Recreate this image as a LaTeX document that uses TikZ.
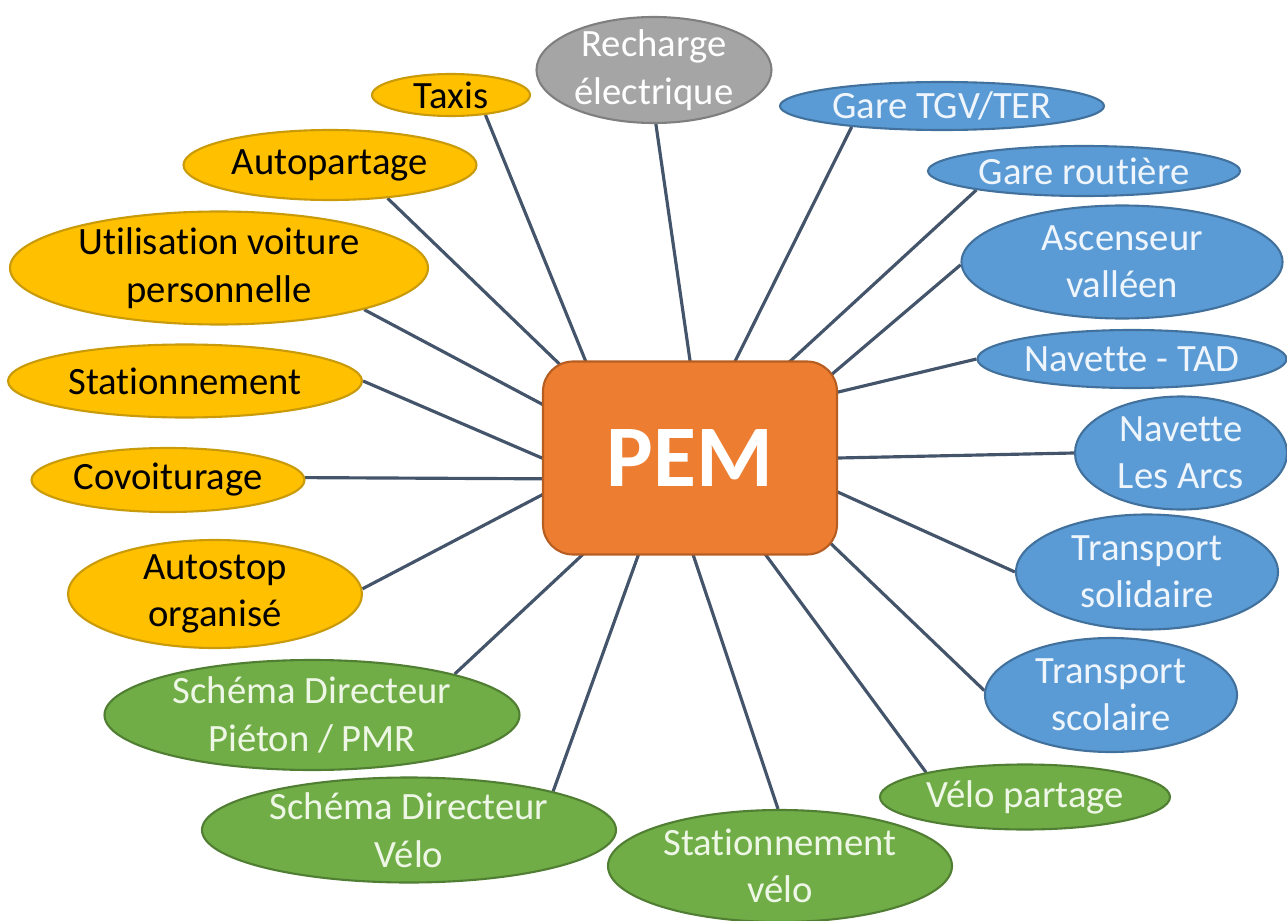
\documentclass[tikz,border=0pt]{standalone}
\usepackage{fontspec}
\setmainfont{Carlito}[RawFeature=-liga, RawFeature=-calt]
\usepackage{tikz}
\usetikzlibrary{shapes.geometric,backgrounds}
\usepackage{xcolor}

\definecolor{pemorange}{HTML}{ED7D31}
\definecolor{pemorangeb}{HTML}{B65E22}
\definecolor{caryellow}{HTML}{FFC000}
\definecolor{caryellowb}{HTML}{C99A0A}
\definecolor{tcblue}{HTML}{5B9BD5}
\definecolor{tcblueb}{HTML}{41719C}
\definecolor{softgreen}{HTML}{70AD47}
\definecolor{softgreenb}{HTML}{507E32}
\definecolor{chgrey}{HTML}{A5A5A5}
\definecolor{chgreyb}{HTML}{7F7F7F}
\definecolor{spokecol}{HTML}{44546A}
\definecolor{bluetext}{HTML}{EEF5FC}
\definecolor{greentext}{HTML}{EEF7E6}

\begin{document}
\begin{tikzpicture}[
        font=\fontsize{11}{13.5}\selectfont,
        bubble/.style={ellipse, line width=0.6pt, inner xsep=0pt, inner ysep=-2pt, align=center},
        dims/.style 2 args={minimum width=#1cm, minimum height=#2cm},
        car/.style={bubble, fill=caryellow, draw=caryellowb, text=black},
        tc/.style={bubble, fill=tcblue, draw=tcblueb, text=bluetext},
        soft/.style={bubble, fill=softgreen, draw=softgreenb, text=greentext},
        charge/.style={bubble, fill=chgrey, draw=chgreyb, text=white},
        hub/.style={rectangle, rounded corners=0.3cm, fill=pemorange, draw=pemorangeb,
            line width=0.6pt, text=white, minimum width=2.94cm, minimum height=1.93cm,
            font=\bfseries\fontsize{25}{30}\selectfont},
        spoke/.style={draw=spokecol, line width=0.9pt, shorten <=-2mm}
    ]
    \useasboundingbox (0,0) rectangle (12.87,9.2);

    % Pôle
    \node[hub] (pem) at (6.90,4.62) {PEM};

    % Voiture
    \node[car, dims={1.58}{0.42}] (taxis) at (4.51,8.25) {Taxis};
    \node[car, dims={2.93}{0.70}] (autopartage) at (3.30,7.55) {Autopartage};
    \node[car, dims={4.18}{1.13}] (voiture) at (2.19,6.52) {Utilisation voiture\\personnelle};
    \node[car, dims={3.54}{0.73}] (stationnement) at (1.85,5.39) {Stationnement};
    \node[car, dims={2.73}{0.64}] (covoit) at (1.68,4.40) {Covoiturage};
    \node[car, dims={2.94}{1.08}] (autostop) at (2.15,3.26) {Autostop\\organisé};

    % Recharge
    \node[charge, dims={2.35}{1.06}] (recharge) at (6.54,8.50) {Recharge\\électrique};

    % Transports collectifs
    \node[tc, dims={3.24}{0.48}] (tgv) at (9.42,8.14) {Gare TGV/TER};
    \node[tc, dims={3.12}{0.50}] (routiere) at (10.84,7.49) {Gare routière};
    \node[tc, dims={3.21}{1.13}] (ascenseur) at (11.22,6.58) {Ascenseur\\valléen};
    \node[tc, dims={3.09}{0.58}] (tad) at (11.32,5.61) {Navette - TAD};
    \node[tc, dims={2.12}{1.13}] (arcs) at (11.81,4.67) {Navette\\Les Arcs};
    \node[tc, dims={2.62}{1.15}] (solidaire) at (11.47,3.48) {Transport\\solidaire};
    \node[tc, dims={2.52}{1.14}] (scolaire) at (11.11,2.25) {Transport\\scolaire};

    % Modes doux
    \node[soft, dims={2.90}{0.65}] (velopartage) at (10.25,1.23) {Vélo partage};
    \node[soft, dims={3.44}{1.12}] (statvelo) at (7.80,0.54) {Stationnement\\vélo};
    \node[soft, dims={4.14}{1.05}] (sdvelo) at (4.09,0.90) {Schéma Directeur\\Vélo};
    \node[soft, dims={4.15}{1.10}] (sdpieton) at (3.12,2.05) {Schéma Directeur\\Piéton / PMR};

    % Liaisons
    \begin{pgfonlayer}{background}
        \draw[spoke] (pem.137) -- (taxis.330);
        \draw[spoke] (pem.144) -- (autopartage.330);
        \draw[spoke] (pem.160) -- (voiture.344);
        \draw[spoke] (pem.180) -- (stationnement.0);
        \draw[spoke] (pem.188) -- (covoit.1);
        \draw[spoke] (pem.194) -- (autostop.2);
        \draw[spoke] (pem.90) -- (recharge.272);
        \draw[spoke] (pem.65) -- (tgv.193);
        \draw[spoke] (pem.44) -- (routiere.190);
        \draw[spoke] (pem.31) -- (ascenseur.181);
        \draw[spoke] (pem.24) -- (tad.180);
        \draw[spoke] (pem.0) -- (arcs.180);
        \draw[spoke] (pem.-13) -- (solidaire.180);
        \draw[spoke] (pem.-32) -- (scolaire.178);
        \draw[spoke] (pem.-52) -- (velopartage.166);
        \draw[spoke] (pem.-88) -- (statvelo.92);
        \draw[spoke] (pem.-118) -- (sdvelo.15);
        \draw[spoke] (pem.-138) -- (sdpieton.16);
    \end{pgfonlayer}
\end{tikzpicture}
\end{document}
